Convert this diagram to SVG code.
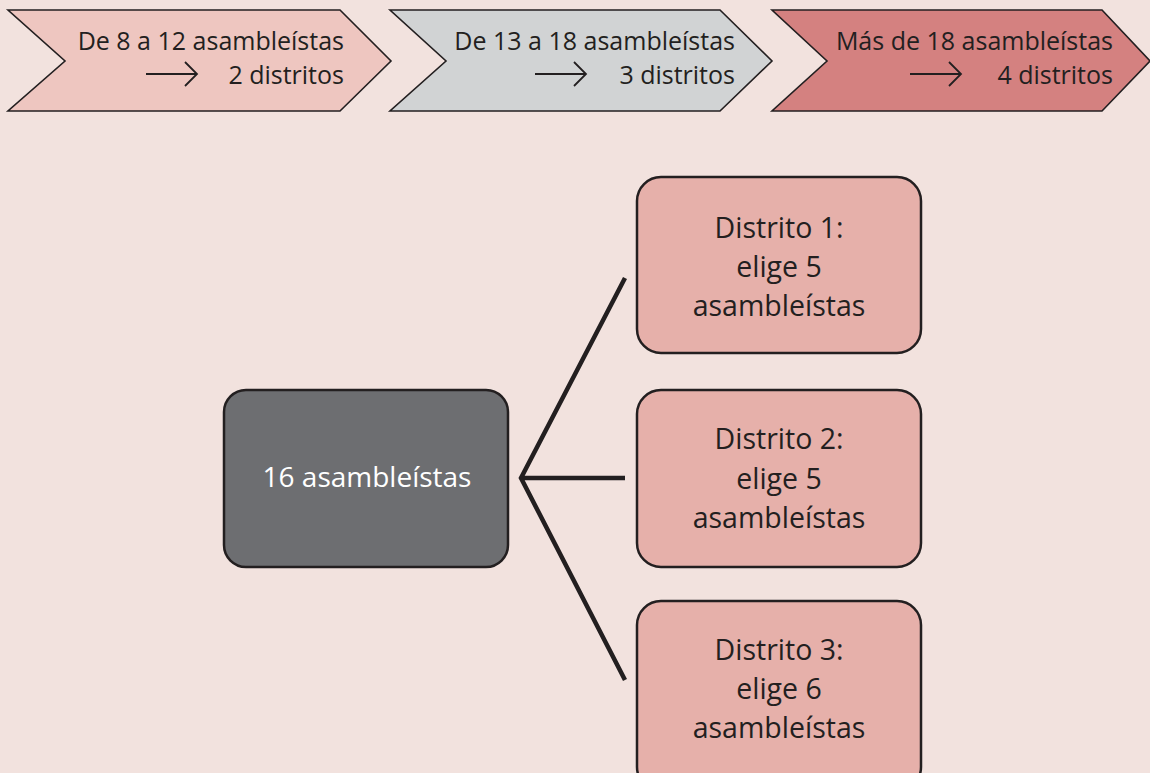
<svg xmlns="http://www.w3.org/2000/svg" width="1150" height="773" viewBox="0 0 1150 773">
<defs>
<style>
.chev{stroke:#231f20;stroke-width:1.6;stroke-linejoin:miter}
.ct{font-family:"Open Sans","Noto Sans",sans-serif;font-size:25px;fill:#231f20;text-anchor:end}
.arr{fill:none;stroke:#231f20;stroke-width:1.8}
.box{stroke:#231f20;stroke-width:2.5}
.bt{font-family:"Open Sans","Noto Sans",sans-serif;font-size:28.5px;fill:#231f20;text-anchor:middle}
.conn{fill:none;stroke:#231f20;stroke-width:4.5}
</style>
</defs>
<rect width="1150" height="773" fill="#f2e2de"/>
<g id="chevron1">
<polygon class="chev" fill="#eec6c0" points="8,10 340,10 391,61 340,111 8,111 65,61"/>
<text class="ct" x="344" y="50">De 8 a 12 asambleístas</text>
<text class="ct" x="344" y="84">2 distritos</text>
<path class="arr" d="M146,74 H197 M185,62 L197,74 L185,86"/>
</g>
<g id="chevron2">
<polygon class="chev" fill="#d1d3d4" points="390,10 720,10 772,61 720,111 390,111 446,61"/>
<text class="ct" x="735" y="50">De 13 a 18 asambleístas</text>
<text class="ct" x="735" y="84">3 distritos</text>
<path class="arr" d="M535,74 H586 M574,62 L586,74 L574,86"/>
</g>
<g id="chevron3">
<polygon class="chev" fill="#d48180" points="772,10 1102,10 1150,61 1102,111 772,111 827,61"/>
<text class="ct" x="1113" y="50">Más de 18 asambleístas</text>
<text class="ct" x="1113" y="84">4 distritos</text>
<path class="arr" d="M910,74 H961 M949,62 L961,74 L949,86"/>
</g>
<g id="connectors">
<path class="conn" d="M625,278 L521,478 L625,680 M521,478 H625"/>
</g>
<g id="total">
<rect class="box" x="224" y="390" width="284" height="177" rx="22" fill="#6d6e71"/>
<text class="bt" x="367" y="487" style="fill:#ffffff;font-size:28px">16 asambleístas</text>
</g>
<g id="distrito1">
<rect class="box" x="637" y="177" width="284" height="176" rx="24" fill="#e6b0aa"/>
<text class="bt" x="779" y="238">Distrito 1:</text>
<text class="bt" x="779" y="277">elige 5</text>
<text class="bt" x="779" y="316">asambleístas</text>
</g>
<g id="distrito2">
<rect class="box" x="637" y="390" width="284" height="177" rx="24" fill="#e6b0aa"/>
<text class="bt" x="779" y="449">Distrito 2:</text>
<text class="bt" x="779" y="489">elige 5</text>
<text class="bt" x="779" y="528">asambleístas</text>
</g>
<g id="distrito3">
<rect class="box" x="637" y="601" width="284" height="190" rx="24" fill="#e6b0aa"/>
<text class="bt" x="779" y="660">Distrito 3:</text>
<text class="bt" x="779" y="699">elige 6</text>
<text class="bt" x="779" y="738">asambleístas</text>
</g>
</svg>
